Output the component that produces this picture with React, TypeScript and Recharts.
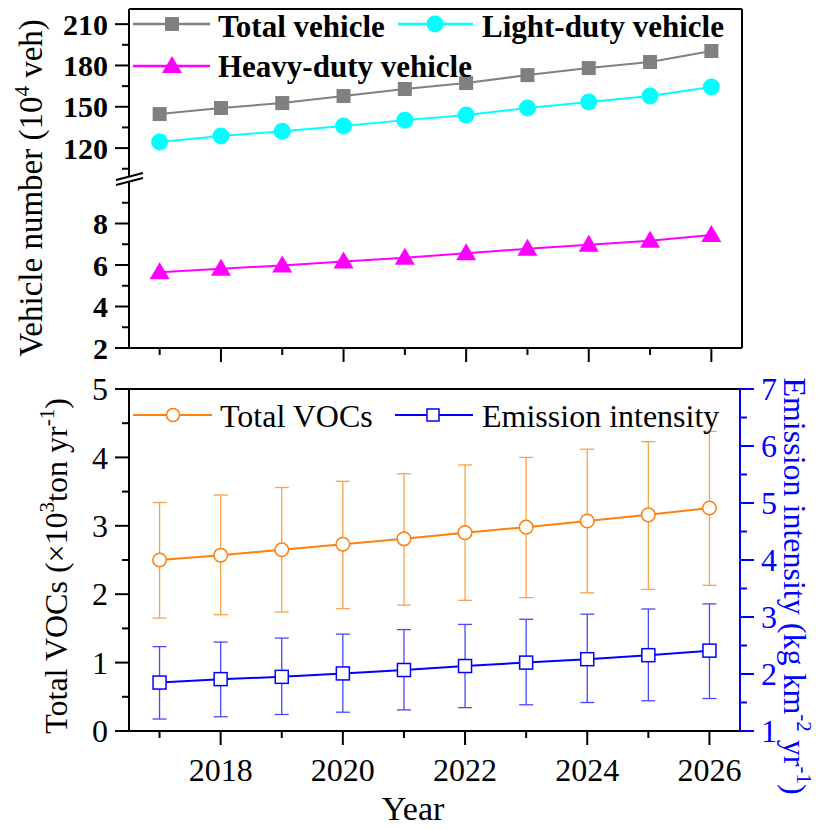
import React from 'react';
import { LineChart, Line, XAxis, YAxis, ErrorBar } from 'recharts';

const years = [2017, 2018, 2019, 2020, 2021, 2022, 2023, 2024, 2025, 2026];

// vehicle numbers (10^4 veh)
const totalVehicle = [144.7, 149.1, 152.7, 157.8, 162.9, 167.2, 173.0, 178.1, 182.5, 190.5];
const lightDuty = [124.4, 128.7, 132.3, 136.0, 140.3, 144.0, 149.1, 153.4, 157.8, 164.3];
const heavyDuty = [5.65, 5.82, 5.98, 6.17, 6.35, 6.57, 6.78, 6.98, 7.17, 7.45];

// total VOCs (x10^3 ton/yr) with uncertainty range
const totalVocs = [2.5, 2.57, 2.65, 2.73, 2.81, 2.9, 2.98, 3.07, 3.16, 3.26];
const vocsLow = [1.65, 1.7, 1.74, 1.79, 1.84, 1.91, 1.95, 2.02, 2.07, 2.13];
const vocsHigh = [3.34, 3.45, 3.56, 3.65, 3.76, 3.89, 4.0, 4.12, 4.23, 4.38];

// emission intensity (kg km-2 yr-1) with uncertainty range
const intensity = [1.85, 1.91, 1.95, 2.01, 2.07, 2.14, 2.2, 2.26, 2.33, 2.41];
const intensityLow = [1.21, 1.25, 1.29, 1.33, 1.37, 1.41, 1.46, 1.5, 1.53, 1.57];
const intensityHigh = [2.48, 2.56, 2.63, 2.7, 2.78, 2.87, 2.96, 3.05, 3.14, 3.23];

const upperTicks = [105, 120, 135, 150, 165, 180, 195, 210];
const lowerTicks = [2, 3, 4, 5, 6, 7, 8, 9];
const vocTicks = [0, 0.5, 1, 1.5, 2, 2.5, 3, 3.5, 4, 4.5, 5];
const intensityTicks = [1, 1.5, 2, 2.5, 3, 3.5, 4, 4.5, 5, 5.5, 6, 6.5, 7];

const FONT = "'Liberation Serif', 'Times New Roman', serif";
const ORANGE = '#ff7f0e';
const ORANGE_BAR = '#f9a24a';
const BLUE = '#0000ff';
const BLUE_BAR = '#4848ff';
const GRAY = '#808080';
const CYAN = '#00ffff';
const MAGENTA = '#ff00ff';

const data = years.map((year, i) => ({
  year,
  total: totalVehicle[i],
  light: lightDuty[i],
  heavy: heavyDuty[i],
  voc: totalVocs[i],
  vocErr: [totalVocs[i] - vocsLow[i], vocsHigh[i] - totalVocs[i]],
  ei: intensity[i],
  eiErr: [intensity[i] - intensityLow[i], intensityHigh[i] - intensity[i]],
}));

const xDomain = [2016.5, 2026.5];

const YTick = (props: any) => {
  const { x, y, payload, side, every, fontSize, bold, color } = props;
  const v = payload.value;
  const major = Math.abs(v / every - Math.round(v / every)) < 1e-6;
  const dir = side === 'left' ? -1 : 1;
  const len = major ? 14 : 7;
  return (
    <g>
      <line x1={x} y1={y} x2={x + dir * len} y2={y} stroke={color} strokeWidth={2} />
      {major && (
        <text
          x={x + dir * 21}
          y={y}
          dy="0.35em"
          textAnchor={side === 'left' ? 'end' : 'start'}
          fontFamily={FONT}
          fontSize={fontSize}
          fontWeight={bold ? 'bold' : 'normal'}
          fill={color}
        >
          {v}
        </text>
      )}
    </g>
  );
};

const XTick = (props: any) => {
  const { x, y, payload, showLabel } = props;
  const v = payload.value;
  const major = v % 2 === 0;
  return (
    <g>
      <line x1={x} y1={y} x2={x} y2={y + (major ? 14 : 7)} stroke="#000" strokeWidth={2} />
      {showLabel && major && (
        <text x={x} y={y + 50} textAnchor="middle" fontFamily={FONT} fontSize={32} fill="#000">
          {v}
        </text>
      )}
    </g>
  );
};

const squareDot = (size: number, fill: string, stroke: string, sw: number) => (p: any) => (
  <rect
    key={`sq-${p.dataKey}-${p.index}`}
    x={p.cx - size / 2}
    y={p.cy - size / 2}
    width={size}
    height={size}
    fill={fill}
    stroke={stroke}
    strokeWidth={sw}
  />
);

const triangleDot = (p: any) => (
  <polygon
    key={`tri-${p.index}`}
    points={`${p.cx},${p.cy - 10} ${p.cx - 10},${p.cy + 7} ${p.cx + 10},${p.cy + 7}`}
    fill={MAGENTA}
  />
);

const black = { stroke: '#000', strokeWidth: 2 };

const Sup = ({ children }: { children: React.ReactNode }) => (
  <>
    <tspan dy={-13} fontSize={21}>
      {children}
    </tspan>
    <tspan dy={13}> </tspan>
  </>
);

const Overlay = () => (
  <svg width={824} height={829} style={{ position: 'absolute', left: 0, top: 0, pointerEvents: 'none' }}>
    {/* axis break and continuous right frame */}
    <line x1={116} y1={180} x2={143} y2={173} stroke="#000" strokeWidth={2} />
    <line x1={116} y1={185} x2={143} y2={178} stroke="#000" strokeWidth={2} />
    <line x1={742} y1={175} x2={742} y2={184} stroke="#000" strokeWidth={2} />

    {/* top legend */}
    <line x1={133} y1={24} x2={210} y2={24} stroke={GRAY} strokeWidth={2.5} />
    <rect x={165} y={17} width={14} height={14} fill={GRAY} />
    <text x={218} y={37} fontFamily={FONT} fontSize={31} fontWeight="bold">Total vehicle</text>
    <line x1={398} y1={24} x2={473} y2={24} stroke={CYAN} strokeWidth={2.5} />
    <circle cx={435} cy={24} r={8.5} fill={CYAN} />
    <text x={482} y={37} fontFamily={FONT} fontSize={31} fontWeight="bold">Light-duty vehicle</text>
    <line x1={133} y1={66} x2={210} y2={66} stroke={MAGENTA} strokeWidth={2.5} />
    <polygon points="172,56 162,73 182,73" fill={MAGENTA} />
    <text x={218} y={77} fontFamily={FONT} fontSize={31} fontWeight="bold">Heavy-duty vehicle</text>

    {/* bottom legend */}
    <line x1={133} y1={415} x2={212} y2={415} stroke={ORANGE} strokeWidth={2} />
    <circle cx={173} cy={415} r={6.5} fill="#fff" stroke={ORANGE} strokeWidth={1.5} />
    <text x={220} y={427} fontFamily={FONT} fontSize={32}>Total VOCs</text>
    <line x1={395} y1={415} x2={473} y2={415} stroke={BLUE} strokeWidth={2} />
    <rect x={427} y={409} width={12} height={12} fill="#fff" stroke={BLUE} strokeWidth={1.5} />
    <text x={482} y={427} fontFamily={FONT} fontSize={32}>Emission intensity</text>

    {/* axis titles */}
    <text transform="translate(42,188) rotate(-90)" textAnchor="middle" fontFamily={FONT} fontSize={33}>
      Vehicle number (10<Sup>4</Sup>veh)
    </text>
    <text transform="translate(67,566) rotate(-90)" textAnchor="middle" fontFamily={FONT} fontSize={32}>
      Total VOCs (×10<tspan dy={-13} fontSize={21}>3</tspan><tspan dy={13}>ton yr</tspan>
      <tspan dy={-13} fontSize={21}>-1</tspan><tspan dy={13}>)</tspan>
    </text>
    <text transform="translate(784,586) rotate(90)" textAnchor="middle" fontFamily={FONT} fontSize={32} fill={BLUE}>
      Emission intensity (kg km<Sup>-2</Sup>yr<tspan dy={-13} fontSize={21}>-1</tspan><tspan dy={13}>)</tspan>
    </text>
    <text x={413} y={820} textAnchor="middle" fontFamily={FONT} fontSize={34}>Year</text>
  </svg>
);

const App: React.FC = () => {
  return (
    <div style={{ position: 'absolute', left: 0, top: 0, width: 824, height: 829, background: '#fff' }}>
      {/* top panel, upper segment */}
      <div style={{ position: 'absolute', left: 0, top: 0 }}>
        <LineChart width={824} height={200} data={data} margin={{ top: 0, right: 0, left: 0, bottom: 23 }}>
          <XAxis dataKey="year" type="number" domain={xDomain} orientation="top" height={9} tick={false} tickLine={false} axisLine={black} />
          <YAxis
            yAxisId="l"
            type="number"
            domain={[99, 221]}
            ticks={upperTicks}
            interval={0}
            width={129}
            tickSize={0}
            tickMargin={0}
            tickLine={false}
            axisLine={black}
            tick={(p: any) => <YTick {...p} side="left" every={30} fontSize={30} bold color="#000" />}
          />
          <YAxis yAxisId="r" orientation="right" type="number" domain={[0, 1]} width={82} tick={false} tickLine={false} axisLine={black} />
          <Line yAxisId="l" type="linear" dataKey="total" stroke={GRAY} strokeWidth={2} dot={squareDot(14, GRAY, 'none', 0)} isAnimationActive={false} />
          <Line yAxisId="l" type="linear" dataKey="light" stroke={CYAN} strokeWidth={2} dot={{ r: 8.5, fill: CYAN, stroke: 'none' }} isAnimationActive={false} />
        </LineChart>
      </div>

      {/* top panel, lower segment */}
      <div style={{ position: 'absolute', left: 0, top: 0 }}>
        <LineChart width={824} height={400} data={data} margin={{ top: 182, right: 0, left: 0, bottom: 0 }}>
          <XAxis
            dataKey="year"
            type="number"
            domain={xDomain}
            ticks={years}
            interval={0}
            height={52}
            tickSize={0}
            tickMargin={0}
            tickLine={false}
            axisLine={black}
            tick={(p: any) => <XTick {...p} showLabel={false} />}
          />
          <YAxis
            yAxisId="l"
            type="number"
            domain={[2, 10]}
            ticks={lowerTicks}
            interval={0}
            width={129}
            tickSize={0}
            tickMargin={0}
            tickLine={false}
            axisLine={black}
            tick={(p: any) => <YTick {...p} side="left" every={2} fontSize={30} bold color="#000" />}
          />
          <YAxis yAxisId="r" orientation="right" type="number" domain={[0, 1]} width={82} tick={false} tickLine={false} axisLine={black} />
          <Line yAxisId="l" type="linear" dataKey="heavy" stroke={MAGENTA} strokeWidth={2} dot={triangleDot} isAnimationActive={false} />
        </LineChart>
      </div>

      {/* bottom panel */}
      <div style={{ position: 'absolute', left: 0, top: 360 }}>
        <LineChart width={824} height={469} data={data} margin={{ top: 0, right: 0, left: 0, bottom: 0 }}>
          <XAxis xAxisId="t" dataKey="year" type="number" domain={xDomain} orientation="top" height={29} tick={false} tickLine={false} axisLine={black} />
          <XAxis
            xAxisId="b"
            dataKey="year"
            type="number"
            domain={xDomain}
            ticks={years}
            interval={0}
            height={98}
            tickSize={0}
            tickMargin={0}
            tickLine={false}
            axisLine={black}
            tick={(p: any) => <XTick {...p} showLabel />}
          />
          <YAxis
            yAxisId="l"
            type="number"
            domain={[0, 5]}
            ticks={vocTicks}
            interval={0}
            width={129}
            tickSize={0}
            tickMargin={0}
            tickLine={false}
            axisLine={black}
            tick={(p: any) => <YTick {...p} side="left" every={1} fontSize={32} color="#000" />}
          />
          <YAxis
            yAxisId="r"
            orientation="right"
            type="number"
            domain={[1, 7]}
            ticks={intensityTicks}
            interval={0}
            width={84}
            tickSize={0}
            tickMargin={0}
            tickLine={false}
            axisLine={{ stroke: BLUE, strokeWidth: 2 }}
            tick={(p: any) => <YTick {...p} side="right" every={1} fontSize={32} color={BLUE} />}
          />
          <Line
            xAxisId="b"
            yAxisId="l"
            type="linear"
            dataKey="voc"
            stroke={ORANGE}
            strokeWidth={2}
            dot={{ r: 6.8, fill: '#fff', stroke: ORANGE, strokeWidth: 1.5 }}
            isAnimationActive={false}
          >
            <ErrorBar dataKey="vocErr" direction="y" width={7} stroke={ORANGE_BAR} strokeWidth={1.3} />
          </Line>
          <Line
            xAxisId="b"
            yAxisId="r"
            type="linear"
            dataKey="ei"
            stroke={BLUE}
            strokeWidth={2}
            dot={squareDot(13, '#fff', BLUE, 1.5)}
            isAnimationActive={false}
          >
            <ErrorBar dataKey="eiErr" direction="y" width={7} stroke={BLUE_BAR} strokeWidth={1.3} />
          </Line>
        </LineChart>
      </div>

      <Overlay />
    </div>
  );
};

export default App;
